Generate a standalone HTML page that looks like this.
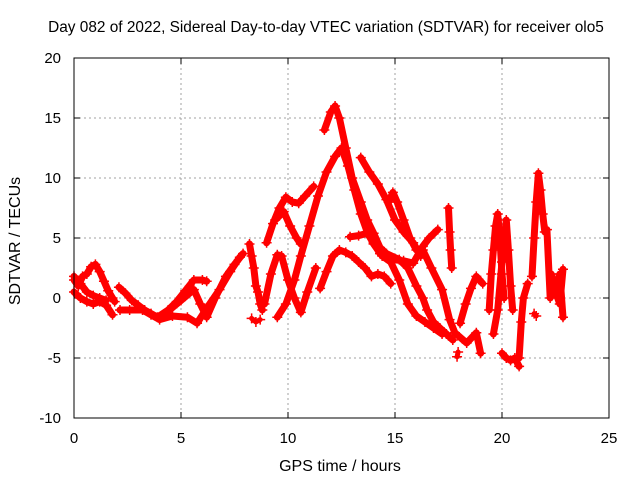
<!DOCTYPE html>
<html><head><meta charset="utf-8"><style>
html,body{margin:0;padding:0;background:#fff;}
svg{display:block;font-family:"Liberation Sans",sans-serif;}
</style></head><body>
<svg id="chart" width="640" height="480" viewBox="0 0 640 480" xmlns="http://www.w3.org/2000/svg">
<text x="326" y="32" font-size="15.4" text-anchor="middle">Day 082 of 2022, Sidereal Day-to-day VTEC variation (SDTVAR) for receiver olo5</text>
<text x="340" y="471" font-size="16" text-anchor="middle">GPS time / hours</text>
<text x="20" y="241" font-size="16" text-anchor="middle" transform="rotate(-90 20 241)">SDTVAR / TECUs</text>
<g id="grid"></g>
<g id="ticks"></g>
<g id="series"></g>
<rect x="74" y="58" width="535" height="360" fill="none" stroke="#000" stroke-width="1"/>
</svg>
<script>
const xTicks = [0,5,10,15,20,25];
const yTicks = [-10,-5,0,5,10,15,20];
const tracks = [
 [[0,1.5],[0.2,1.0],[0.4,1.8],[0.6,2.0],[0.8,2.6],[1.0,2.8],[1.2,2.2],[1.4,1.4],[1.6,0.6],[1.8,0],[1.9,-0.3]],
 [[0,0.5],[0.3,0],[0.6,-0.3],[0.9,-0.5],[1.2,-0.3],[1.5,-0.6],[1.8,-1.4]],
 [[0,1.8],[0.3,1.2],[0.6,0.5],[0.9,0.2],[1.2,0],[1.5,-0.2]],
 [[2.1,0.9],[2.4,0.4],[2.7,-0.2],[3.0,-0.6],[3.3,-1.0],[3.6,-1.3],[3.9,-1.6],[4.4,-1.0],[4.8,-0.3],[5.2,0.6],[5.6,1.5],[6.0,1.5],[6.2,1.4]],
 [[2.15,-1.0],[2.6,-1.0],[3.2,-1.0],[3.6,-1.4],[4.0,-1.8],[4.6,-1.5],[5.3,-1.6],[5.75,-2.1],[6.3,-0.6],[6.8,0.7],[7.3,2.2],[7.75,3.4]],
 [[4.1,-1.5],[4.6,-0.8],[5.0,-0.2],[5.6,0.7],[5.9,-0.5],[6.2,-1.6],[6.6,0],[7.1,1.8],[7.5,2.8],[7.9,3.7]],
 [[8.2,4.5],[8.3,3.5],[8.4,2.5],[8.5,1.0],[8.6,0.5],[8.7,-0.5],[8.8,-1.0]],
 [[8.3,-1.7],[8.5,-2.0],[8.7,-1.8]],
 [[9.0,4.6],[9.3,6.2],[9.6,7.5],[9.9,8.4],[10.2,8.0],[10.5,7.9],[10.8,8.5],[11.2,9.3]],
 [[9.4,6.5],[9.8,7.2],[10.1,6.0],[10.4,5.0],[10.6,4.5]],
 [[8.9,-0.5],[9.2,2.0],[9.5,3.6],[9.7,3.5],[10.0,1.5],[10.3,0],[10.6,-1.2],[10.9,0.5],[11.3,2.5]],
 [[9.5,-1.6],[9.9,-0.5],[10.3,1.5],[10.6,3.5],[11.0,6.0],[11.4,8.5],[11.8,10.5],[12.2,11.8],[12.5,12.5],[12.8,11.0],[13.1,9.0],[13.4,7.0],[13.7,5.5],[14.0,4.5],[14.4,3.5],[14.8,3.0],[15.2,1.5],[15.6,-0.5],[16.0,-1.5],[16.4,-2.0],[16.8,-2.5],[17.2,-3.0]],
 [[11.7,14.0],[12.0,15.5],[12.2,16.0],[12.4,15.0],[12.7,12.5],[13.0,10.0],[13.4,8.0],[13.7,6.5],[14.0,5.4],[14.3,4.2],[14.6,3.7],[15.2,3.2],[15.6,2.5],[16.0,1.0],[16.3,0],[16.5,-1.0],[16.8,-2.0],[17.1,-2.5],[17.4,-3.0],[17.7,-3.5]],
 [[13.4,11.7],[13.8,10.5],[14.2,9.5],[14.6,8.2],[15.0,6.5],[15.4,5.5],[15.85,4.6],[16.2,3.5]],
 [[14.7,8.0],[14.9,8.8],[15.1,8.0],[15.4,6.5],[15.7,5.0],[16.0,4.0]],
 [[12.9,5.1],[13.3,5.2],[13.7,5.4],[14.0,4.6],[14.3,3.7],[14.9,3.2],[15.4,3.1],[15.85,2.9],[16.3,4.3],[16.6,5.0],[17.0,5.7]],
 [[11.5,0.8],[11.8,2.2],[12.1,3.5],[12.4,4.0],[12.7,3.8],[13.0,3.5],[13.3,3.0],[13.6,2.5],[13.9,1.8],[14.2,2.0],[14.5,1.8],[14.8,1.2]],
 [[16.3,4.0],[16.7,2.5],[17.2,0.7],[17.55,-1.8],[17.8,-2.9],[18.35,-3.75],[18.8,-2.9],[19.0,-4.6]],
 [[17.5,7.5],[17.55,5.5],[17.6,4.0],[17.65,2.5]],
 [[18.04,-2.1],[18.3,-0.5],[18.55,0.8],[18.8,1.8],[19.1,1.2]],
 [[17.9,-4.9],[17.95,-4.5]],
 [[19.4,-1.0],[19.5,2.0],[19.6,4.0],[19.7,6.0],[19.8,7.0],[19.9,5.0],[20.0,2.0],[20.1,0]],
 [[19.6,-3.0],[19.8,-1.0],[20.0,3.0],[20.2,6.5],[20.3,4.0],[20.4,1.0],[20.5,-1.0]],
 [[20.0,-4.6],[20.2,-5.0],[20.4,-5.2],[20.6,-5.0],[20.8,-5.7]],
 [[20.8,-5.0],[20.9,-2.0],[21.0,0],[21.2,1.2]],
 [[21.4,1.8],[21.5,5.0],[21.6,8.0],[21.7,10.4],[21.8,9.0],[21.9,7.0],[22.0,5.5],[22.1,5.7],[22.25,0],[22.5,1.0],[22.7,2.0],[22.85,-1.6]],
 [[21.5,-1.3],[21.6,-1.5]],
 [[22.3,2.0],[22.5,0.5],[22.7,-0.5],[22.85,2.4]]
];
const X0=74,X1=609,Y0=418,Y1=58;
function sx(t){return X0+(t-0)/(25-0)*(X1-X0);}
function sy(v){return Y0-(v-(-10))/(20-(-10))*(Y0-Y1);}
const NS="http://www.w3.org/2000/svg";
const grid=document.getElementById('grid'),ticks=document.getElementById('ticks'),ser=document.getElementById('series');
function mk(tag,attrs,parent){const e=document.createElementNS(NS,tag);for(const k in attrs)e.setAttribute(k,attrs[k]);parent.appendChild(e);return e;}
xTicks.forEach(t=>{
 const x=sx(t);
 if(t>0&&t<25){const g=mk('line',{x1:x,x2:x,y1:Y1,y2:Y0,stroke:'#a0a0a0','stroke-dasharray':'2,3','stroke-width':1},grid);
 
 }
 mk('line',{x1:x,x2:x,y1:Y0,y2:Y0-6,stroke:'#000'},ticks);
 mk('line',{x1:x,x2:x,y1:Y1,y2:Y1+6,stroke:'#000'},ticks);
 const tx=mk('text',{x:x,y:Y0+25,'font-size':15,'text-anchor':'middle'},ticks);
 tx.textContent=t;
 
 
});
yTicks.forEach(v=>{
 const y=sy(v);
 if(v>-10&&v<20){const g=mk('line',{x1:X0,x2:X1,y1:y,y2:y,stroke:'#a0a0a0','stroke-dasharray':'2,3','stroke-width':1},grid);
 
 }
 mk('line',{x1:X0,x2:X0+6,y1:y,y2:y,stroke:'#000'},ticks);
 mk('line',{x1:X1,x2:X1-6,y1:y,y2:y,stroke:'#000'},ticks);
 const tx=mk('text',{x:X0-13,y:y+5,'font-size':15,'text-anchor':'end'},ticks);
 tx.textContent=v;
 
 
});
tracks.forEach((tr,i)=>{
 const pts=tr.map(p=>sx(p[0]).toFixed(1)+','+sy(p[1]).toFixed(1)).join(' ');
 const pl=mk('polyline',{points:pts,fill:'none',stroke:'#ff0000','stroke-width':tr.length>3?7:5,'stroke-linejoin':'round','stroke-linecap':'round'},ser);
 
 
 tr.forEach(p=>{
  const x=sx(p[0]),y=sy(p[1]);
  const m=mk('path',{d:`M${x-5},${y}H${x+5}M${x},${y-5}V${y+5}`,stroke:'#ff0000','stroke-width':1.5},ser);
  
  
 });
});
</script>
</body></html>
